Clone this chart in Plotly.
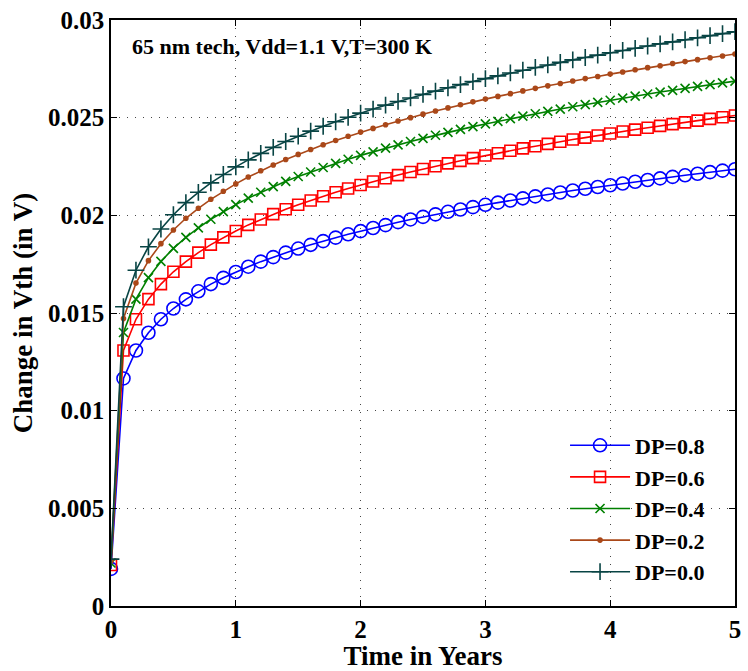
import plotly.graph_objects as go

# Time axis (years)
t = [round(0.1 * i, 1) for i in range(51)]

# Change in Vth (V) for each duty probability
dp08 = [0.0019, 0.01165, 0.01308, 0.01399, 0.01468, 0.01523, 0.01570, 0.01611, 0.01648, 0.01680,
        0.01710, 0.01737, 0.01763, 0.01786, 0.01809, 0.01830, 0.01849, 0.01868, 0.01886, 0.01903,
        0.01919, 0.01935, 0.01950, 0.01965, 0.01979, 0.01992, 0.02005, 0.02018, 0.02030, 0.02042,
        0.02054, 0.02065, 0.02076, 0.02087, 0.02097, 0.02107, 0.02117, 0.02127, 0.02136, 0.02145,
        0.02154, 0.02163, 0.02172, 0.02181, 0.02189, 0.02197, 0.02205, 0.02213, 0.02221, 0.02229,
        0.02236]
dp06 = [0.0021, 0.01308, 0.01468, 0.01571, 0.01648, 0.01711, 0.01763, 0.01809, 0.01850, 0.01887,
        0.01920, 0.01951, 0.01979, 0.02006, 0.02031, 0.02054, 0.02076, 0.02098, 0.02118, 0.02137,
        0.02155, 0.02173, 0.02190, 0.02206, 0.02222, 0.02237, 0.02251, 0.02266, 0.02279, 0.02293,
        0.02306, 0.02318, 0.02331, 0.02343, 0.02354, 0.02366, 0.02377, 0.02388, 0.02398, 0.02409,
        0.02419, 0.02429, 0.02439, 0.02448, 0.02458, 0.02467, 0.02476, 0.02485, 0.02494, 0.02502,
        0.02511]
dp04 = [0.0022, 0.01400, 0.01571, 0.01681, 0.01764, 0.01831, 0.01887, 0.01936, 0.01980, 0.02019,
        0.02055, 0.02088, 0.02118, 0.02147, 0.02174, 0.02199, 0.02222, 0.02245, 0.02266, 0.02287,
        0.02307, 0.02325, 0.02344, 0.02361, 0.02378, 0.02394, 0.02410, 0.02425, 0.02440, 0.02454,
        0.02468, 0.02481, 0.02495, 0.02508, 0.02520, 0.02532, 0.02544, 0.02556, 0.02567, 0.02578,
        0.02589, 0.02600, 0.02610, 0.02621, 0.02631, 0.02640, 0.02650, 0.02660, 0.02669, 0.02678,
        0.02687]
dp02 = [0.0023, 0.01472, 0.01653, 0.01768, 0.01855, 0.01925, 0.01985, 0.02036, 0.02082, 0.02123,
        0.02161, 0.02196, 0.02228, 0.02258, 0.02286, 0.02312, 0.02337, 0.02361, 0.02383, 0.02405,
        0.02426, 0.02445, 0.02464, 0.02483, 0.02500, 0.02518, 0.02534, 0.02550, 0.02566, 0.02581,
        0.02595, 0.02609, 0.02623, 0.02637, 0.02650, 0.02663, 0.02675, 0.02688, 0.02700, 0.02711,
        0.02723, 0.02734, 0.02745, 0.02756, 0.02766, 0.02777, 0.02787, 0.02797, 0.02807, 0.02816,
        0.02826]
dp00 = [0.0024, 0.01532, 0.01719, 0.01839, 0.01930, 0.02003, 0.02065, 0.02118, 0.02166, 0.02209,
        0.02248, 0.02284, 0.02317, 0.02348, 0.02378, 0.02405, 0.02431, 0.02456, 0.02479, 0.02502,
        0.02523, 0.02544, 0.02564, 0.02583, 0.02601, 0.02619, 0.02636, 0.02653, 0.02669, 0.02685,
        0.02700, 0.02714, 0.02729, 0.02743, 0.02757, 0.02770, 0.02783, 0.02796, 0.02808, 0.02820,
        0.02832, 0.02844, 0.02855, 0.02867, 0.02878, 0.02888, 0.02899, 0.02909, 0.02920, 0.02930,
        0.02940]

names = ["DP=0.8", "DP=0.6", "DP=0.4", "DP=0.2", "DP=0.0"]
series = [dp08, dp06, dp04, dp02, dp00]
colors = ["rgb(0,0,255)", "rgb(255,0,0)", "rgb(0,128,0)", "rgb(170,72,25)", "rgb(8,68,68)"]
symbols = ["circle-open", "square-open", "x-thin-open", "circle", "cross-thin-open"]
sizes = [13, 11, 9, 4, 12]

FONT = "Liberation Serif"

fig = go.Figure()
for name, ys, c, s, sz in zip(names, series, colors, symbols, sizes):
    fig.add_trace(go.Scatter(
        x=t, y=ys, name=name, mode="lines+markers",
        line=dict(color=c, width=1.6),
        marker=dict(symbol=s, size=sz, color=c, line=dict(color=c, width=1.6)),
    ))

axis_common = dict(
    showline=True, linecolor="black", linewidth=1.5, mirror="ticks",
    ticks="inside", ticklen=6, tickcolor="black", tickwidth=1,
    showgrid=True, gridcolor="rgb(70,70,70)", gridwidth=1, griddash="1px,7px",
    zeroline=False,
    tickfont=dict(family=FONT, size=25, color="black", weight="bold"),
)

fig.update_layout(
    width=748, height=671,
    margin=dict(l=111, r=7, t=14, b=65),
    paper_bgcolor="white", plot_bgcolor="white",
    font=dict(family=FONT, color="black"),
    xaxis=dict(range=[0, 5], tickvals=[0, 1, 2, 3, 4, 5], ticktext=["0", "1", "2", "3", "4", "5"],
               title=dict(text="Time in Years", font=dict(family=FONT, size=27, weight="bold"), standoff=0),
               **axis_common),
    yaxis=dict(range=[0, 0.03], tickvals=[0, 0.005, 0.01, 0.015, 0.02, 0.025, 0.03],
               ticktext=["0", "0.005", "0.01", "0.015", "0.02", "0.025", "0.03"],
               title=dict(text="Change in Vth (in V)", font=dict(family=FONT, size=27, weight="bold"), standoff=8),
               **axis_common),
    legend=dict(x=0.96, y=0.023, xanchor="right", yanchor="bottom",
                bgcolor="rgba(255,255,255,0)", borderwidth=0,
                font=dict(family=FONT, size=22, color="black", weight="bold"),
                tracegroupgap=0, itemwidth=60),
    annotations=[dict(text="65 nm tech, Vdd=1.1 V,T=300 K", xref="paper", yref="paper",
                      x=0.03, y=0.955, xanchor="left", yanchor="middle", showarrow=False,
                      font=dict(family=FONT, size=22, color="black", weight="bold"))],
    showlegend=True,
)

fig.write_html("out.html")
